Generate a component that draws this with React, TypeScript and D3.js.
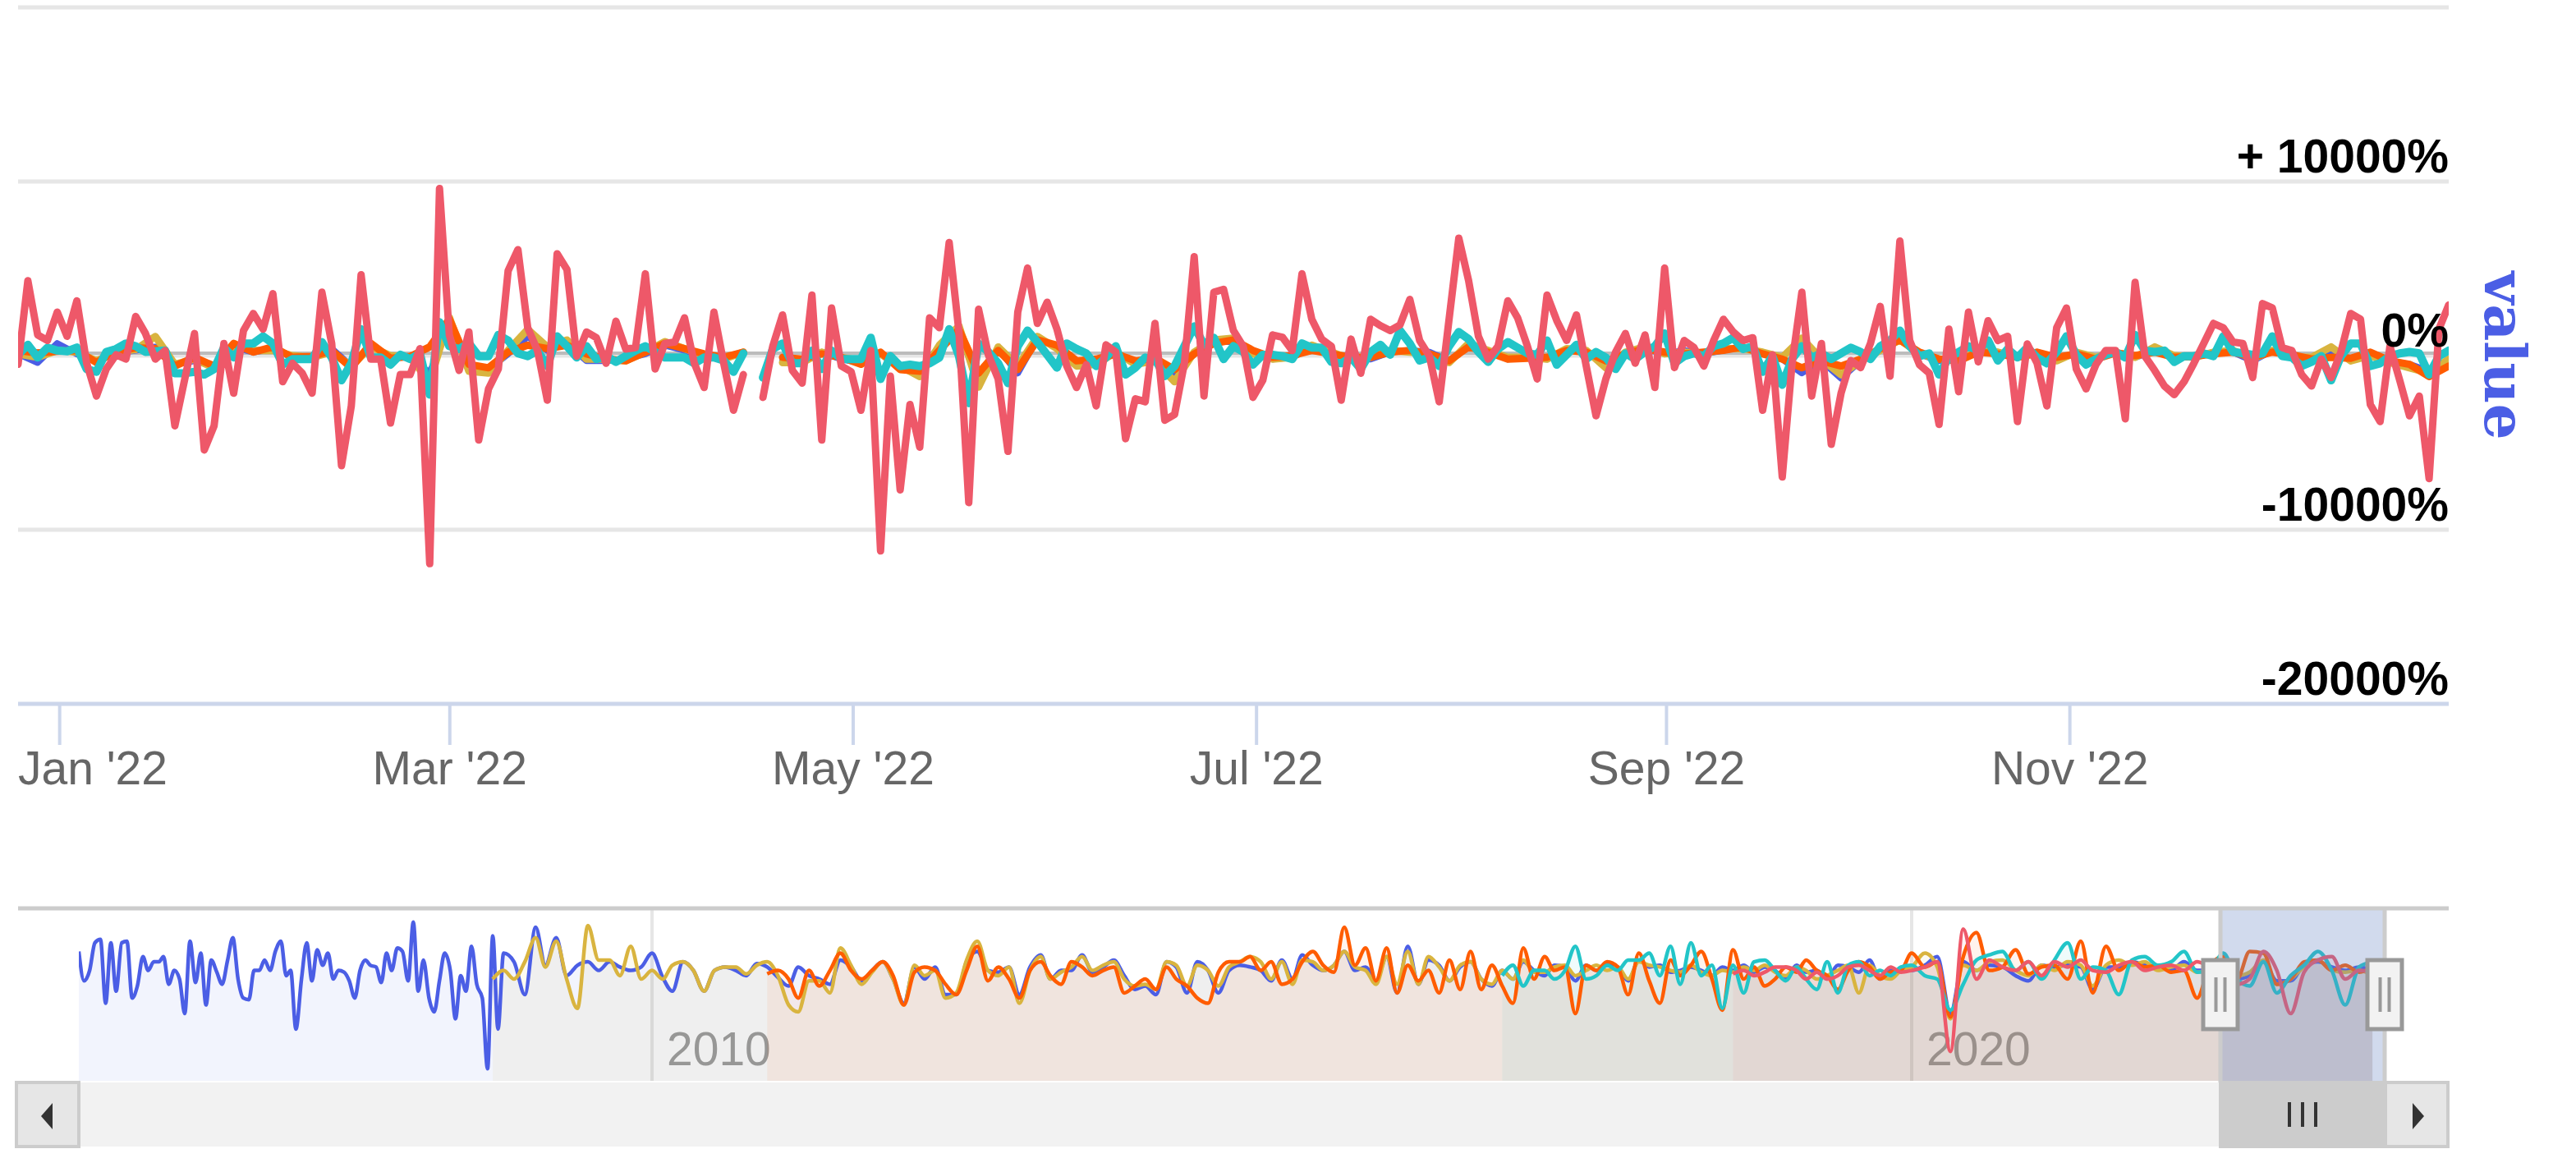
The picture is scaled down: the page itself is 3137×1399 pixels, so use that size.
import { useMemo } from 'react';
import * as d3 from 'd3';

const WIDTH = 3137;
const HEIGHT = 1399;

const PLOT = { left: 22, right: 2982, top: 9, bottom: 857 };
const NAV = { left: 96, right: 2904, top: 1106, bottom: 1316 };
const SCROLL = { top: 1318, bottom: 1396, button: 76 };

const COLORS = {
    blue: '#4b5ee5',
    yellow: '#d9b43f',
    orange: '#ff5c00',
    teal: '#22c5c8',
    red: '#ee5869',
};

// visible window of the main chart
const windowStart = new Date(2021, 11, 25, 17);
const windowEnd = new Date(2022, 11, 28, 7);

// percent change values, one per trading session in the window
const redValues = [
    -500, 4300, 1190, 870, 2500, 1110, 3150, -440, -2320, -770, 50, -200, 2250, 1270, -200, 290, -4030,
    -1370, 1270, -5420, -4030, 700, -2160, 1440, 2420, 1520, 3560, -1500, -440, -1010, -2160, 3640, 700,
    -6320, -2890, 4650, -200, -200, -3870, -1090, -1090, 400,
    -11950, 9600, 1190, -850, 1360, -4850, -1910, -770, 4870, 6090, 1600, 290, -2560, 5850, 4950, -30,
    1360, 1030, -440, 1980, 380, 460, 4700, -770, 700, 780, 2170, -440, -1830, 2500, -440, -3140, -1090,
    null, -2400, 540, 2340, -850, -1580, 3480, -4850, 2740,
    -600, -930, -3140, 290, -11220, -1180, -7710, -2810, -5260, 2170, 1600, 6500, 1360, -8440, 2660, 50,
    -1340, -5500, 2500, 5030, 1850, 3070, 1520, -600, -1830, -520, -2890, 620, 210, -4770, -2480, -2650,
    1850, -3710, -3380, -440, 5680, -2320, 3640, 3810, 1440, 540,
    -2400, -1420, 1190, 1060, 290, 4700, 2090, 950, 540, -2560, 950, -1010, 2090, 1720, 1440, 1760, 3230,
    870, -30, -2650, 2060, 6750, 4300, 1110, -200, 540, 3150, 2170, 540, -1340, 3480, 2010, 870, 2340,
    -600, -3460, -1340, 210, 1270, -440, 1190, -1830,
    5030, -690, 870, 460, -600, 870, 2090, 1360, 870, 1030, -3140, 50, -6970, -440, 3640, -2320, 700,
    -5100, -2160, -280, -690, 700, 2830, -1180, 6580, 870, -520, -1010, -3950, 1520, -2070, 2500, -360,
    2010, 870, 1110, -3790, 670, -440, -2890, 1600, 2740,
    -770, -1910, -520, 290, 290, -3630, 4210, -30, -850, -1750, -2240, -1500, -440, 700, 1850, 1600, 780,
    700, -1260, 2990, 2740, 460, 290, -1090, -1750, -200, -1260, 210, 2420, 2090, -2810, -3790, 540,
    -1420, -3460, -2320, -7060, 1520, 2910,
];

const tealValues = [
    50, 620, -110, 460, 290, 250, 460, -770, -930, 210, 380, 700, 540, 210, 250, 290, -1010, -1010, -930,
    -1090, -770, 460, -110, 700, 700, 1110, 700, -520, -200, -200, -200, 780, -110, -1420, -440, 1520,
    -110, -110, -520, 50, -200, 130,
    -2240, 1930, 540, 380, 700, -30, -30, 1190, 870, 130, -30, 290, -600, 1110, 540, -110, 540, -200, -30,
    -360, -30, 290, 540, 210, -110, -110, -110, -440, -110, -110, -280, -930, 130, null, -1260, 380, 700,
    -440, -440, 290, -770, 290,
    -200, -200, -200, 1030, -1340, -30, -600, -520, -600, -440, -110, 1520, -30, -2730, 700, 210, -440,
    -1580, 540, 1440, 780, 50, -690, 700, 380, 130, -600, -110, 540, -1090, -690, -110, -200, -1180, -600,
    540, 1680, 620, 1030, -200, 540, 210,
    -520, 50, 50, -30, -200, 700, 460, 460, -360, -440, -110, -770, 210, 620, 50, 1440, 700, -280, -110,
    -600, 540, 1360, 950, 210, -360, 380, 780, 460, 130, 50, 870, -520, 50, 620, -200, 210, -110, -770,
    130, -200, 210, 540,
    1270, -440, -30, 130, -30, 540, 700, 1030, 380, 540, -930, -30, -1670, -200, 540, -110, 130, -200, 130,
    460, 210, -200, 540, 870, 1440, 540, -30, 130, -1090, -110, 210, 540, 290, 870, -280, 380, -110, 460,
    -110, -440, 210, 1110,
    50, -520, -200, 50, 210, -110, 1190, 290, 210, 290, -360, -30, -30, 130, -30, 1110, 210, 130, 50, 130,
    1110, -30, -110, -600, -360, -30, -1420, -30, 700, 700, -600, -440, -30, 130, 210, 130, -1090, -30, 290,
];

// every second session
const orangeValues = [
    300, 150, 250, 300, -400, 250, 450, 400, -600, -100,
    -600, 700, 200, 500, -100, -50, 300, -700, 700, -150,
    -50, 500, 2100, -500, -700, 200, 600, 400, 600, 100,
    -200, -300, 200, 700, 400, 100, -100, 200, null, -100,
    -200, 100, -100, -500, 200, -800, -900, 300, 1500, -1000,
    300, -800, 900, 600, -300, -200, 100, -300, -150, -800,
    100, 700, 900, 300, -100, 0, 300, 100, -100, -100,
    200, 300, 100, -300, 500, 200, -200, -150, -100, 300,
    200, -300, 100, 400, 200, 100, 200, 300, 500, 100,
    -200, -700, -300, -600, -200, 400, 900, 200, -200, -300,
    200, 100, -100, 200, -100, 100, -200, 150, 0, 200,
    -100, -50, 100, 200, -100, 200, 50, -200, -100, -150,
    200, -300, -500, -1200, -600,
];

const yellowValues = [
    100, -100, 300, 200, -300, 200, 350, 1100, -500, -200,
    -700, 600, 300, 300, 0, -100, 200, -600, 500, 0,
    -100, -1500, 2200, -900, -1000, 300, 1500, 500, 900, -200,
    -200, -300, 200, 800, 400, 0, -200, 200, null, -400,
    -400, 200, -100, -300, 100, -600, -1200, 600, 1700, -1800,
    500, -600, 1100, 400, -600, -500, 200, -500, -300, -1500,
    200, 900, 1000, 100, -200, -100, 600, 200, -200, -100,
    300, 200, 100, -400, 700, 300, -100, -100, -200, 400,
    300, -700, 200, 500, 100, 200, 100, 400, 400, 200,
    -100, 1000, -200, -1100, -300, 300, 900, 100, -200, -300,
    300, 200, -100, 100, -300, 200, -100, 200, -100, 500,
    0, -100, 200, 300, -200, 300, -100, -100, 500, -300,
    0, -400, -700, -1000, -200,
];

const blueValues = [
    100, -400, 700, 100, -300, 150, 300, 500, -500, -300,
    -600, 500, 200, 400, -100, -200, 400, -600, 600, -100,
    -100, -1000, 1800, -600, -800, 100, 1100, 300, 700, -300,
    -300, -200, 100, 600, 300, -100, -100, 100, null, -300,
    -200, 200, -200, -400, 100, -700, -800, 500, 1300, -1400,
    400, -1000, 1000, 500, -500, -300, 100, -400, -200, -1000,
    100, 800, 800, 200, -200, -100, 500, 100, -100, -200,
    200, 300, 200, -300, 600, 300, -200, -100, -200, 300,
    300, -500, 100, 400, 100, 300, 100, 300, 500, 100,
    -200, -1000, -300, -1300, -300, 300, 1000, 100, -300, -200,
    200, 200, -100, 200, -200, 100, -200, 200, -100, 300,
    -100, -100, 200, 200, -300, 300, -100, -200, 300, -200,
    100, -300, -500, -900, -300,
];

// navigator levels; first series starts Jul 2005
const navStart = new Date(2005, 6, 1);

// blue, twice a month up to Nov 2008
const navBlueEarly = [
    75, 58, 64, 80, 82, 45, 80, 52, 80, 81, 48, 55, 72, 64, 69, 69, 72, 56, 64, 59,
    39, 81, 57, 74, 44, 70, 63, 56, 70, 83, 59, 48, 47, 64, 64, 70, 64, 75, 81, 61,
    64, 30, 59, 80, 58, 76, 67, 74, 59, 64, 63, 58, 48, 64, 70, 67, 66, 57, 74, 64,
    77, 75, 58, 92, 52, 70, 48, 40, 58, 74, 64, 36, 61, 52, 78, 56, 48, 7, 84, 30, 74,
];

// blue, monthly from Dec 2008
const navBlue = [
    69, 50, 89, 67, 83, 61, 67, 69, 64, 69, 66, 64, 66, 74,
    60, 52, 69, 64, 52, 64, 66, 64, 61, 68, 66, 60, 55, 66, 61,
    59, 56, 70, 66, 58, 64, 69, 59, 45, 66, 59, 66, 50, 50, 69, 75, 64, 63, 66, 50,
    66, 73, 59, 64, 64, 73, 63, 66, 70, 61, 53, 55, 50, 69, 66, 51, 69, 64, 51, 64,
    67, 66, 64, 58, 70, 59, 73, 67, 64, 67, 75, 64, 66, 58, 72, 51, 78, 56, 70, 67,
    58, 66, 69, 59, 55, 64, 59, 69, 64, 61, 67, 66, 58, 67, 64, 67, 66, 58, 70, 66,
    67, 63, 64, 66, 64, 61, 66, 64, 67, 63, 66, 64, 59, 67, 63, 64, 59, 67, 66, 63, 70,
    59, 64, 64, 64, 67, 72, 39, 69, 64, 67, 66, 61, 58, 67, 66, 67, 66, 53, 66, 66,
    69, 67, 66, 64, 69, 64, 64, 66, 59, 61, 69, 58, 58, 67, 69, 66, 64, 66, 64,
];

const navYellow = [
    59, 64, 59, 69, 83, 66, 81, 59, 42, 90, 70, 70, 61, 78, 59, 64, 59, 67, 69, 64,
    52, 64, 66, 66, 62, 67, 69, 61, 44, 40, 58,
    58, 51, 77, 67, 56, 63, 69, 59, 44, 67, 61, 64, 48, 51, 70, 81, 64, 61, 66, 45,
    64, 72, 59, 63, 66, 72, 64, 67, 69, 59, 55, 56, 53, 69, 67, 55, 67, 64, 55, 66,
    69, 72, 69, 59, 69, 56, 70, 69, 64, 67, 75, 66, 64, 56, 72, 56, 75, 56, 72, 66,
    58, 67, 69, 59, 56, 64, 59, 70, 63, 63, 66, 67, 61, 64, 67, 64, 66, 59, 69, 67,
    66, 64, 63, 67, 63, 61, 64, 63, 66, 64, 67, 63, 61, 66, 64, 59, 61, 64, 67, 51, 67,
    61, 59, 64, 66, 74, 66, 36, 67, 64, 69, 70, 64, 61, 67, 64, 69, 67, 55, 67, 70,
    67, 69, 64, 66, 67, 63, 64, 64, 61, 63, 70, 56, 59, 66, 70, 64, 63, 64, 61,
];

const navOrange = [
    62, 64, 59, 48, 64,
    55, 64, 74, 64, 59, 64, 69, 61, 44, 63, 66, 64, 56, 50, 64, 78, 58, 66, 59, 48,
    64, 69, 61, 56, 69, 66, 61, 64, 66, 51, 55, 59, 53, 66, 59, 55, 48, 45, 63, 69,
    69, 72, 64, 69, 56, 59, 69, 75, 67, 63, 89, 67, 77, 58, 77, 51, 67, 58, 64, 51,
    70, 53, 75, 53, 67, 55, 45, 77, 59, 72, 64, 66, 39, 67, 64, 69, 66, 50, 74, 58,
    45, 70, 61, 67, 75, 59, 41, 76, 59, 66, 55, 59, 66, 63, 70, 64, 61, 53, 64, 69, 66,
    59, 63, 64, 74, 66, 69, 37, 72, 86, 64, 66, 76, 62, 66, 67, 59, 81, 51, 78, 64,
    69, 66, 67, 63, 64, 48, 67, 72, 59, 75, 74, 56, 59, 69, 70, 64, 67, 63, 66,
];

const navTeal = [
    61, 67, 55, 64, 64, 59, 64, 78, 59, 61, 67, 64, 70, 70, 74, 61, 78, 56, 80, 61,
    67, 42, 67, 51, 69, 70, 64, 58, 66, 59, 53, 69, 51, 67, 69, 61,
    64, 61, 66, 67, 61, 59, 41, 56, 70, 73, 75, 64, 69, 59, 70, 80, 59, 66, 64, 50,
    70, 72, 67, 69, 75, 63, 64, 74, 59, 55, 69, 51, 61, 67, 75, 64, 44, 66, 69,
];

const navRed = [
    62, 64, 61, 63, 66, 66, 64, 59, 63, 59, 61, 66, 67, 64,
    61, 66, 63, 64, 66, 69, 17, 88, 59, 70, 66, 64, 69, 61, 69, 66, 70, 64, 63, 67,
    69, 64, 66, 67, 64, 69, 66, 64, 56, 59, 75, 64, 39, 63, 70, 72, 59, 64, 63,
];

// ordinal-like breakpoints of the navigator axis
const navBreakDates = [navStart, new Date(2010, 0, 1), new Date(2020, 0, 1), windowStart, windowEnd];
const navBreakRange = [NAV.left, 794, 2328, 2704, NAV.right];
const navYears = [new Date(2010, 0, 1), new Date(2020, 0, 1)];

const yTicks = [-20000, -10000, 0, 10000, 20000];

const LABEL_FONT = '"Liberation Sans", Arial, Helvetica, sans-serif';

function pctLabel(v: number) {
    return v > 0 ? `+ ${v}%` : `${v}%`;
}

type NavPoint = { date: Date; v: number };

function monthly(values: number[], startMonth: number): NavPoint[] {
    return values.map((v, i) => ({ date: d3.timeMonth.offset(navStart, startMonth + i), v }));
}

function halfMonthly(values: number[], startMonth: number): NavPoint[] {
    return values.map((v, i) => ({
        date: d3.timeDay.offset(d3.timeMonth.offset(navStart, startMonth + Math.floor(i / 2)), i % 2 ? 15 : 0),
        v,
    }));
}

export default function App() {
    const sessions = redValues.length;

    const x = useMemo(
        () => d3.scaleTime().domain([windowStart, windowEnd]).range([PLOT.left, PLOT.right]),
        []
    );
    const y = useMemo(
        () => d3.scaleLinear().domain([-20000, 20000]).range([PLOT.bottom, PLOT.top]),
        []
    );
    const navX = useMemo(() => d3.scaleTime().domain(navBreakDates).range(navBreakRange), []);
    const navY = useMemo(() => d3.scaleLinear().domain([0, 100]).range([NAV.bottom, NAV.top]), []);

    const mainSeries = useMemo(() => {
        const sessionTime = d3
            .scaleLinear()
            .domain([0, sessions - 1])
            .range([+windowStart, +windowEnd]);
        const line = d3
            .line<{ t: number; v: number | null }>()
            .defined((d) => d.v !== null)
            .x((d) => x(new Date(d.t)))
            .y((d) => y(d.v as number));
        const defs = [
            { key: 'blue', values: blueValues, stride: 2, width: 8 },
            { key: 'yellow', values: yellowValues, stride: 2, width: 9 },
            { key: 'orange', values: orangeValues, stride: 2, width: 9 },
            { key: 'teal', values: tealValues, stride: 1, width: 10 },
            { key: 'red', values: redValues, stride: 1, width: 9 },
        ] as const;
        return defs.map((s) => ({
            key: s.key,
            width: s.width,
            color: COLORS[s.key],
            d: line(s.values.map((v, i) => ({ t: sessionTime(i * s.stride), v }))) ?? '',
        }));
    }, [sessions, x, y]);

    const navSeries = useMemo(() => {
        const defs: { key: keyof typeof COLORS; pts: NavPoint[] }[] = [
            { key: 'blue', pts: [...halfMonthly(navBlueEarly, 0), ...monthly(navBlue, 41)] },
            { key: 'yellow', pts: monthly(navYellow, 39) },
            { key: 'orange', pts: monthly(navOrange, 65) },
            { key: 'teal', pts: monthly(navTeal, 135) },
            { key: 'red', pts: monthly(navRed, 157) },
        ];
        const line = d3
            .line<NavPoint>()
            .curve(d3.curveMonotoneX)
            .x((d) => navX(d.date))
            .y((d) => navY(d.v));
        const area = d3
            .area<NavPoint>()
            .curve(d3.curveMonotoneX)
            .x((d) => navX(d.date))
            .y0(NAV.bottom)
            .y1((d) => navY(d.v));
        return defs.map((s) => ({ key: s.key, color: COLORS[s.key], line: line(s.pts) ?? '', area: area(s.pts) ?? '' }));
    }, [navX, navY]);

    const xTicks = x.ticks(d3.timeMonth.every(2)!).filter((d) => x(d) >= PLOT.left && x(d) <= PLOT.right);
    const fmt = d3.timeFormat("%b '%y");
    const maskLeft = navX(windowStart);
    const maskRight = navX(windowEnd);
    const navMid = (NAV.top + NAV.bottom) / 2;
    const scrollMid = (SCROLL.top + SCROLL.bottom) / 2;
    const thumbMid = (maskLeft + maskRight) / 2;
    const y0 = y(0);
    const leftBtnMid = NAV.left - SCROLL.button / 2;
    const rightBtnMid = NAV.right + 1 + SCROLL.button / 2;

    return (
        <svg
            width={WIDTH}
            height={HEIGHT}
            viewBox={`0 0 ${WIDTH} ${HEIGHT}`}
            style={{ position: 'absolute', left: 0, top: 0, background: '#fff' }}
        >
            <defs>
                <clipPath id="plot-clip">
                    <rect x={PLOT.left} y={0} width={PLOT.right - PLOT.left} height={PLOT.bottom} />
                </clipPath>
                <clipPath id="nav-clip">
                    <rect x={NAV.left} y={NAV.top} width={NAV.right - NAV.left} height={NAV.bottom - NAV.top} />
                </clipPath>
            </defs>

            {/* grid */}
            {yTicks
                .filter((v) => v !== -20000)
                .map((v) => (
                    <line key={v} x1={PLOT.left} x2={PLOT.right} y1={y(v)} y2={y(v)} stroke="#e6e6e6" strokeWidth={5} />
                ))}
            <line x1={PLOT.left} x2={PLOT.right} y1={y0 - 3} y2={y0 - 3} stroke="#bcbcbc" strokeWidth={4} />

            {/* x axis */}
            <line x1={PLOT.left} x2={PLOT.right} y1={PLOT.bottom} y2={PLOT.bottom} stroke="#ccd6eb" strokeWidth={5} />
            {xTicks.map((d) => (
                <line key={+d} x1={x(d)} x2={x(d)} y1={PLOT.bottom} y2={PLOT.bottom + 50} stroke="#ccd6eb" strokeWidth={4} />
            ))}

            {/* series */}
            <g clipPath="url(#plot-clip)" fill="none" strokeLinejoin="round" strokeLinecap="round">
                {mainSeries.map((s) => (
                    <path key={s.key} d={s.d} stroke={s.color} strokeWidth={s.width} />
                ))}
            </g>

            {/* axis labels */}
            {xTicks.map((d) => {
                const label = fmt(d);
                const half = (label.length * 57 * 0.5) / 2;
                const clampLeft = x(d) - half < PLOT.left;
                return (
                    <text
                        key={+d}
                        x={clampLeft ? PLOT.left : x(d)}
                        y={955}
                        textAnchor={clampLeft ? 'start' : 'middle'}
                        fontFamily={LABEL_FONT}
                        fontSize={57}
                        fill="#666666"
                    >
                        {label}
                    </text>
                );
            })}
            {yTicks
                .filter((v) => y(v) - 11 > 40)
                .map((v) => (
                    <text
                        key={v}
                        x={PLOT.right}
                        y={y(v) - 11}
                        textAnchor="end"
                        fontFamily={LABEL_FONT}
                        fontSize={57}
                        fontWeight="bold"
                        fill="#000000"
                    >
                        {pctLabel(v)}
                    </text>
                ))}
            <text
                transform={`translate(3026, ${(PLOT.top + PLOT.bottom) / 2}) rotate(90)`}
                textAnchor="middle"
                fontFamily='"DejaVu Serif", serif'
                fontWeight="bold"
                fontSize={69}
                fill={COLORS.blue}
            >
                value
            </text>

            {/* navigator */}
            {navYears.map((d) => (
                <g key={+d}>
                    <line x1={navX(d)} x2={navX(d)} y1={NAV.top} y2={NAV.bottom} stroke="#e6e6e6" strokeWidth={4} />
                    <text x={navX(d) + 18} y={1297} fontFamily={LABEL_FONT} fontSize={57} fill="#999999">
                        {d3.timeFormat('%Y')(d)}
                    </text>
                </g>
            ))}
            <g clipPath="url(#nav-clip)">
                {navSeries.map((s) => (
                    <path key={s.key} d={s.area} fill={s.color} fillOpacity={0.07} stroke="none" />
                ))}
                {navSeries.map((s) => (
                    <path key={s.key} d={s.line} fill="none" stroke={s.color} strokeWidth={4.5} strokeLinejoin="round" />
                ))}
            </g>
            <rect
                x={maskLeft}
                y={NAV.top}
                width={maskRight - maskLeft}
                height={NAV.bottom - NAV.top}
                fill="rgba(102,133,194,0.3)"
            />
            <line x1={PLOT.left} x2={PLOT.right} y1={NAV.top} y2={NAV.top} stroke="#cccccc" strokeWidth={5} />
            {[maskLeft, maskRight].map((mx) => (
                <line key={mx} x1={mx} x2={mx} y1={NAV.top} y2={SCROLL.top} stroke="#cccccc" strokeWidth={5} />
            ))}

            {/* scrollbar */}
            <rect x={NAV.left} y={SCROLL.top} width={NAV.right - NAV.left} height={SCROLL.bottom - SCROLL.top} fill="#f2f2f2" />
            <rect
                x={maskLeft}
                y={SCROLL.top}
                width={maskRight - maskLeft}
                height={SCROLL.bottom - SCROLL.top}
                fill="#cccccc"
                stroke="#cccccc"
                strokeWidth={4}
            />
            {[-16, 0, 16].map((o) => (
                <line key={o} x1={thumbMid + o} x2={thumbMid + o} y1={scrollMid - 15} y2={scrollMid + 15} stroke="#333333" strokeWidth={4} />
            ))}
            <rect
                x={NAV.left - SCROLL.button}
                y={SCROLL.top}
                width={SCROLL.button}
                height={SCROLL.bottom - SCROLL.top}
                fill="#e6e6e6"
                stroke="#cccccc"
                strokeWidth={4}
            />
            <rect
                x={NAV.right + 1}
                y={SCROLL.top}
                width={SCROLL.button}
                height={SCROLL.bottom - SCROLL.top}
                fill="#e6e6e6"
                stroke="#cccccc"
                strokeWidth={4}
            />
            <path
                d={`M${leftBtnMid - 8},${scrollMid + 2} L${leftBtnMid + 6},${scrollMid - 14} L${leftBtnMid + 6},${scrollMid + 18} Z`}
                fill="#333333"
            />
            <path
                d={`M${rightBtnMid + 9},${scrollMid + 2} L${rightBtnMid - 5},${scrollMid - 14} L${rightBtnMid - 5},${scrollMid + 18} Z`}
                fill="#333333"
            />

            {/* handles */}
            {[maskLeft, maskRight].map((hx) => (
                <g key={hx}>
                    <rect x={hx - 21} y={navMid - 42} width={42} height={84} fill="#f2f2f2" stroke="#999999" strokeWidth={5} />
                    <line x1={hx - 5.5} x2={hx - 5.5} y1={navMid - 21} y2={navMid + 21} stroke="#999999" strokeWidth={4} />
                    <line x1={hx + 5.5} x2={hx + 5.5} y1={navMid - 21} y2={navMid + 21} stroke="#999999" strokeWidth={4} />
                </g>
            ))}
        </svg>
    );
}
